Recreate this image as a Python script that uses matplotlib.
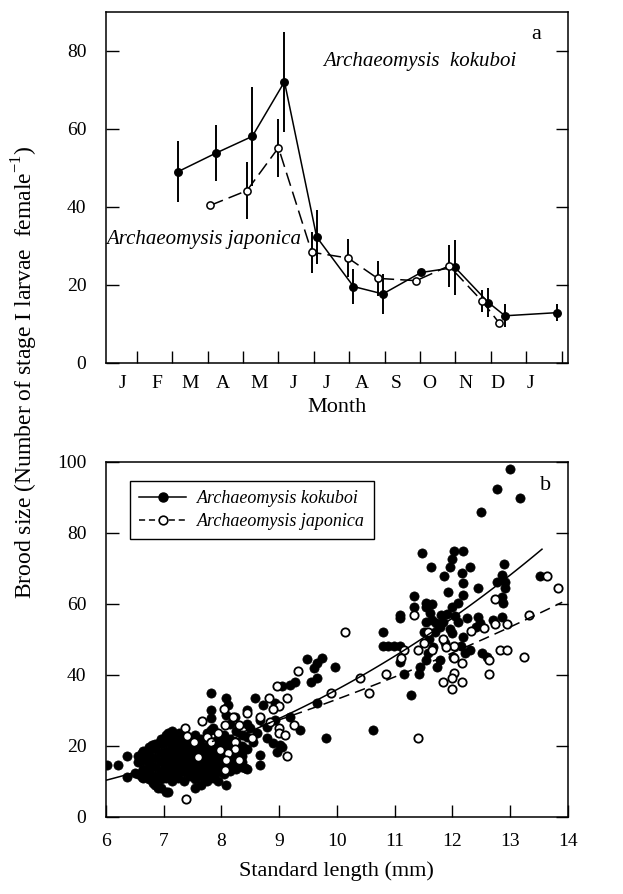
"""
Brood size of two Archaeomysis species
(a) seasonal change of mean brood size, (b) brood size vs standard length
"""

import numpy as np
import matplotlib.pyplot as plt

plt.rcParams['font.family'] = ['Liberation Serif', 'DejaVu Serif']
plt.rcParams['mathtext.fontset'] = 'custom'
plt.rcParams['mathtext.rm'] = 'Liberation Serif'

# ── Panel a: monthly mean brood size (x in months from 1 Jan) ─────────────
kok_month = [2.15, 3.23, 4.26, 5.17, 6.08, 7.12, 7.95, 9.03, 9.99, 10.93, 11.40, 12.87]
kok_mean  = [49.0, 53.8, 58.1, 72.1, 32.3, 19.6, 17.7, 23.2, 24.5, 15.5, 12.1, 12.9]
kok_err   = [7.8, 7.2, 12.7, 12.8, 7.0, 4.5, 5.2, 0.8, 7.0, 3.6, 2.9, 2.2]

jap_month = [3.07, 4.11, 5.00, 5.94, 6.97, 7.80, 8.89, 9.82, 10.76, 11.24]
jap_mean  = [40.4, 44.2, 55.2, 28.4, 26.9, 21.7, 21.1, 24.9, 15.8, 10.2]
jap_err   = [0.0, 7.3, 7.4, 5.3, 4.8, 4.5, 0.0, 5.3, 2.8, 0.0]

month_labels = ['J', 'F', 'M', 'A', 'M', 'J', 'J', 'A', 'S', 'O', 'N', 'D', 'J']
month_label_pos = [0.58, 1.56, 2.50, 3.44, 4.45, 5.41, 6.36, 7.35, 8.34,
                   9.25, 10.27, 11.20, 12.12]
month_bounds = list(range(1, 14))

# ── Panel b: individual females, standard length (mm) vs brood size ───────
kok_sl = [
    13.0, 12.78, 13.17, 12.49,
    11.48, 12.03, 12.19, 11.99, 12.30, 11.63, 11.96, 11.86, 12.16, 12.90, 12.78,
    12.85, 12.91, 12.91, 12.45, 11.93, 12.19, 12.19, 11.34, 11.54, 11.54, 11.34,
    11.09, 11.09, 12.00, 12.10, 12.88, 12.85, 12.45, 12.25, 12.10, 11.55, 11.64,
    11.72, 11.84, 11.81, 12.48, 12.19, 11.50, 12.00, 11.78, 10.79, 10.79, 10.89,
    10.99, 11.09, 11.58, 11.67, 12.22, 12.52, 11.09, 11.44, 11.78, 11.74, 12.01,
    11.17, 11.43, 11.29, 10.63, 13.51,
    11.62, 11.70, 11.90, 11.95, 11.88, 12.05, 12.15, 12.30, 11.60, 11.55, 12.60,
    12.70, 12.85, 11.65, 12.40,
    9.97, 9.74, 9.49, 9.65, 9.56, 9.65, 9.28, 9.19, 9.05, 9.65, 9.36, 9.82, 9.19, 9.60,
    8.58, 8.73, 8.93, 8.44, 8.24, 8.93, 8.67, 8.79, 8.61, 8.79, 8.90, 9.02, 8.96,
    8.67, 8.67, 8.35, 8.35, 8.41, 9.05, 8.50, 8.55,
    7.83, 7.83, 7.83, 8.09, 8.12, 8.09, 7.83, 8.09, 8.09, 7.92, 8.21, 8.21,
    6.03, 6.22, 6.36, 6.36, 6.51, 6.62, 6.62, 6.80, 6.77, 6.82, 6.91, 7.08, 6.94,
    7.08, 7.26, 7.00,
    6.55, 6.55, 6.55,
    6.65, 6.65, 6.65, 6.65,
    6.75, 6.75, 6.75, 6.75, 6.75,
    6.85, 6.85, 6.85, 6.85, 6.85, 6.85,
    6.95, 6.95, 6.95, 6.95, 6.95, 6.95, 6.95,
    7.05, 7.05, 7.05, 7.05, 7.05, 7.05, 7.05, 7.05,
    7.15, 7.15, 7.15, 7.15, 7.15, 7.15, 7.15, 7.15,
    7.25, 7.25, 7.25, 7.25, 7.25, 7.25, 7.25,
    7.35, 7.35, 7.35, 7.35, 7.35, 7.35, 7.35,
    7.45, 7.45, 7.45, 7.45, 7.45, 7.45,
    7.55, 7.55, 7.55, 7.55, 7.55, 7.55, 7.55, 7.55,
    7.65, 7.65, 7.65, 7.65, 7.65, 7.65, 7.65,
    7.75, 7.75, 7.75, 7.75, 7.75, 7.75, 7.75,
    7.85, 7.85, 7.85, 7.85, 7.85, 7.85, 7.85,
    7.95, 7.95, 7.95, 7.95, 7.95, 7.95,
    8.05, 8.05, 8.05, 8.05, 8.05, 8.05,
    8.15, 8.15, 8.15, 8.15, 8.15, 8.15,
    8.25, 8.25, 8.25, 8.25, 8.25,
    8.35, 8.35, 8.35, 8.35,
    8.45, 8.45, 8.45, 8.45,
]
kok_bs = [
    97.8, 92.2, 89.9, 85.9,
    74.4, 74.8, 74.8, 72.6, 70.2, 70.2, 70.2, 67.8, 68.7, 71.2, 66.2,
    68.1, 66.2, 64.3, 64.3, 63.4, 65.7, 62.4, 62.2, 60.1, 59.2, 59.2,
    56.8, 55.9, 59.2, 60.1, 60.1, 56.3, 56.3, 55.9, 54.9, 54.9, 55.4,
    54.5, 54.9, 56.8, 54.5, 50.7, 52.1, 51.6, 53.5, 52.1, 48.1, 48.1,
    48.1, 48.1, 46.0, 47.9, 46.0, 46.0, 43.7, 42.3, 44.1, 42.3, 45.1,
    40.1, 40.1, 34.3, 24.4, 67.8,
    57.5, 52.0, 57.0, 53.0, 49.0, 56.5, 48.0, 47.0, 50.0, 44.0, 45.0,
    55.5, 62.0, 60.0, 53.5,
    42.3, 44.6, 44.3, 43.4, 38.0, 39.0, 38.0, 37.1, 36.9, 31.9, 24.4, 22.3, 28.2, 42.0,
    33.3, 31.5, 31.9, 30.0, 28.2, 27.2, 27.2, 25.2, 23.5, 22.1, 20.7, 20.2, 18.3,
    17.4, 14.6, 18.3, 15.5, 13.6, 19.5, 25.0, 21.0,
    34.7, 30.0, 27.7, 33.3, 31.5, 28.6, 24.4, 21.6, 8.9, 21.6, 17.8, 15.0,
    14.6, 14.6, 17.1, 11.1, 12.2, 17.8, 11.3, 20.2, 14.6, 9.4, 8.0, 7.0, 21.1,
    23.5, 23.5, 16.0,
    12.0, 15.5, 17.0,
    11.0, 13.5, 16.0, 18.5,
    10.5, 12.5, 15.0, 17.5, 19.5,
    9.0, 11.5, 14.0, 16.5, 19.0, 20.5,
    8.0, 10.5, 13.0, 15.5, 18.0, 20.5, 22.0,
    7.0, 11.0, 12.5, 14.5, 16.5, 18.5, 21.0, 23.0,
    10.0, 12.0, 14.0, 16.0, 18.0, 20.0, 22.0, 24.0,
    11.0, 13.0, 15.0, 17.0, 19.0, 21.0, 23.0,
    10.0, 12.5, 14.5, 16.5, 18.5, 20.5, 22.5,
    11.5, 13.5, 15.5, 17.5, 19.5, 21.5,
    8.0, 10.5, 12.5, 14.5, 16.5, 18.5, 20.5, 23.0,
    9.0, 11.5, 13.5, 15.5, 17.5, 19.5, 22.0,
    10.0, 12.0, 14.0, 16.0, 18.0, 20.0, 23.5,
    11.0, 13.0, 15.0, 17.0, 19.0, 21.0, 25.0,
    10.0, 12.5, 14.5, 16.5, 18.5, 20.5,
    12.0, 14.0, 16.0, 18.0, 20.0, 23.0,
    13.0, 15.0, 17.0, 19.5, 22.0, 26.0,
    13.5, 15.5, 18.0, 21.0, 24.0,
    14.0, 17.0, 20.0, 23.0,
    13.5, 19.0, 22.5, 26.0,
]

jap_sl = [
    13.63, 13.83, 13.33, 13.24, 12.74, 12.74, 12.94, 12.82, 12.94, 12.55, 12.64,
    12.64, 12.33, 12.17, 12.17, 12.03, 12.00, 12.00, 11.84, 12.03, 12.03, 11.84,
    11.89, 11.64, 11.58, 11.50, 11.40, 11.34, 11.17, 11.11, 10.85, 10.40, 10.56,
    10.14, 9.90, 11.40,
    9.33, 9.13, 8.96, 9.00, 8.83, 8.90, 8.67, 8.44, 8.84, 9.25, 9.00, 9.00, 9.10,
    8.53, 9.13, 8.04, 8.21, 8.30, 8.06, 8.24, 8.24, 8.12, 8.09, 8.06, 8.30,
    7.66, 7.60, 7.37, 7.40, 7.52, 7.39, 7.75, 7.83, 7.95, 7.98,
]
jap_bs = [
    67.8, 64.3, 56.8, 44.9, 61.2, 54.2, 54.2, 46.9, 46.9, 53.2, 44.1,
    40.1, 52.3, 43.4, 38.0, 40.4, 39.0, 35.9, 38.0, 44.6, 48.1, 50.0,
    47.9, 46.9, 52.1, 49.0, 46.9, 56.8, 46.9, 44.6, 40.1, 39.0, 34.7,
    52.1, 34.7, 22.3,
    41.0, 33.3, 36.8, 31.2, 33.3, 30.2, 28.2, 29.1, 26.8, 25.8, 24.9, 23.5, 23.0,
    22.3, 17.1, 30.2, 28.2, 25.8, 25.8, 21.1, 19.2, 18.0, 16.0, 13.1, 16.0,
    26.9, 16.9, 24.9, 22.7, 21.1, 4.9, 22.5, 21.1, 23.5, 18.8,
]

# power-law regressions, brood size = a * SL^b
kok_fit_a, kok_fit_b, kok_fit_range = 0.127, 2.45, (6.0, 13.55)
jap_fit_a, jap_fit_b, jap_fit_range = 0.489, 1.83, (7.0, 13.9)

# ── Figure ────────────────────────────────────────────────────────────────
fig = plt.figure(figsize=(6.23, 8.94), dpi=100)
ax1 = fig.add_axes([0.1697, 0.594, 0.742, 0.3926])
ax2 = fig.add_axes([0.1697, 0.0865, 0.742, 0.3971])

# panel a
ax1.plot(kok_month, kok_mean, color='k', lw=1.1, zorder=2)
ax1.vlines(kok_month, np.array(kok_mean) - kok_err, np.array(kok_mean) + kok_err,
           color='k', lw=1.4, zorder=2)
ax1.plot(kok_month, kok_mean, 'o', color='k', ms=5.4, zorder=3)

ax1.plot(jap_month, jap_mean, color='k', lw=1.1, ls=(0, (9, 4)), zorder=2)
ax1.vlines(jap_month, np.array(jap_mean) - jap_err, np.array(jap_mean) + jap_err,
           color='k', lw=1.4, zorder=2)
ax1.plot(jap_month, jap_mean, 'o', mfc='white', mec='k', mew=1.1, ms=5.2, zorder=4)

ax1.set_xlim(0.12, 13.18)
ax1.set_ylim(0, 90)
ax1.set_yticks([0, 20, 40, 60, 80])
ax1.set_xticks(month_bounds)
ax1.set_xticklabels([])
ax1.set_xticks(month_label_pos, minor=True)
ax1.set_xticklabels(month_labels, minor=True)
ax1.tick_params(axis='both', which='major', direction='in', length=9,
                width=1, labelsize=14)
ax1.tick_params(axis='y', right=True, pad=14)
ax1.tick_params(axis='x', which='minor', length=0, labelsize=14, pad=9)
ax1.set_xlabel('Month', fontsize=16, labelpad=4)

ax1.text(9.0, 77.3, 'Archaeomysis  kokuboi', fontsize=15, style='italic',
         ha='center', va='center')
ax1.text(2.88, 31.6, 'Archaeomysis japonica', fontsize=15, style='italic',
         ha='center', va='center')
ax1.text(12.29, 84.2, 'a', fontsize=16, ha='center', va='center')

# panel b
ax2.scatter(kok_sl, kok_bs, s=44, c='k', edgecolors='k', linewidths=0.5, zorder=2)
ax2.scatter(jap_sl, jap_bs, s=36, c='white', edgecolors='k', linewidths=1.3, zorder=3)

xk = np.linspace(*kok_fit_range, 100)
xj = np.linspace(*jap_fit_range, 100)
ax2.plot(xk, kok_fit_a * xk ** kok_fit_b, color='k', lw=1.1, zorder=4)
ax2.plot(xj, jap_fit_a * xj ** jap_fit_b, color='k', lw=1.1, ls=(0, (7, 4)), zorder=4)

# legend proxies
h1, = ax2.plot([], [], '-o', color='k', ms=6.5, lw=1.1)
h2, = ax2.plot([], [], 'o', ls=(0, (4, 2.5)), color='k', mfc='white', mew=1.2,
               ms=6.2, lw=1.1)
leg = ax2.legend([h1, h2], ['Archaeomysis kokuboi', 'Archaeomysis japonica'],
                 loc='upper left', bbox_to_anchor=(0.053, 0.946),
                 prop={'style': 'italic', 'size': 13}, fancybox=False,
                 framealpha=1, edgecolor='k', handlelength=2.6,
                 handletextpad=0.6, borderpad=0.5, labelspacing=0.35,
                 borderaxespad=0)
leg.get_frame().set_linewidth(1.0)

ax2.set_xlim(6, 14)
ax2.set_ylim(0, 100)
ax2.set_xticks(range(6, 15))
ax2.set_yticks([0, 20, 40, 60, 80, 100])
ax2.tick_params(axis='both', direction='in', length=9, width=1, labelsize=14)
ax2.tick_params(axis='y', right=True, pad=14)
ax2.tick_params(axis='x', pad=12)
ax2.set_xlabel('Standard length (mm)', fontsize=16, labelpad=8)
ax2.text(13.62, 93.4, 'b', fontsize=16, ha='center', va='center')

for ax in (ax1, ax2):
    for sp in ax.spines.values():
        sp.set_linewidth(1.1)

fig.text(0.040, 0.584,
         r'Brood size (Number of stage I larvae  female$^{\mathrm{-1}}$)',
         rotation=90, fontsize=17, ha='center', va='center')

plt.savefig('out.png', dpi=100)
